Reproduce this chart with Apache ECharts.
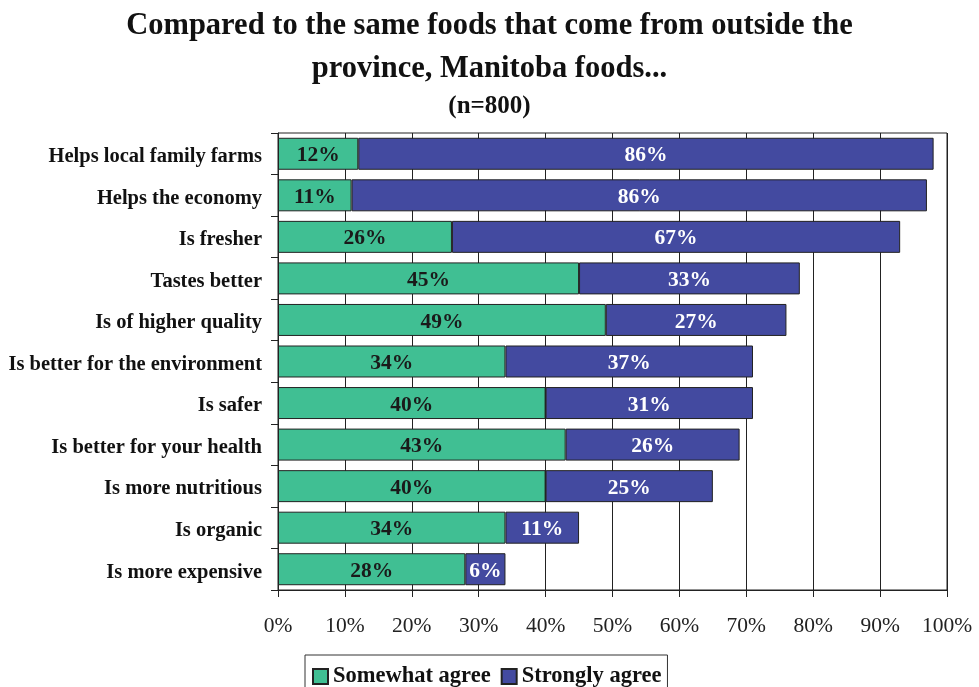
<!DOCTYPE html>
<html>
<head>
<meta charset="utf-8">
<script src="https://cdn.jsdelivr.net/npm/echarts@6/dist/echarts.min.js"></script>
<style>html,body{margin:0;padding:0;background:#fff;}#c{width:979px;height:687px;}</style>
</head>
<body>
<div id="c"></div>
<script>
const categories = ["Helps local family farms","Helps the economy","Is fresher","Tastes better","Is of higher quality","Is better for the environment","Is safer","Is better for your health","Is more nutritious","Is organic","Is more expensive"];
const somewhatAgree = [12,11,26,45,49,34,40,43,40,34,28];
const stronglyAgree = [86,86,67,33,27,37,31,26,25,11,6];
const xTicks = [0,10,20,30,40,50,60,70,80,90,100];

const serif = '"Liberation Serif","Times New Roman",serif';
const chart = echarts.init(document.getElementById('c'));
chart.setOption({
  animation: false,
  backgroundColor: '#fff',
  title: [
    {text: 'Compared to the same foods that come from outside the\nprovince, Manitoba foods...', left: 'center', top: 0,
     textStyle: {fontFamily: serif, fontSize: 30.5, fontWeight: 'bold', color: '#111', lineHeight: 43}},
    {text: '(n=800)', left: 'center', top: 89,
     textStyle: {fontFamily: serif, fontSize: 25, fontWeight: 'bold', color: '#111'}}
  ],
  legend: {
    data: ['Somewhat agree','Strongly agree'],
    left: 305, top: 655, itemWidth: 15, itemHeight: 15, itemGap: 10,
    padding: [10, 6, 14, 7],
    borderColor: '#333', borderWidth: 1,
    textStyle: {fontFamily: serif, fontSize: 22.5, fontWeight: 'bold', color: '#111'},
    icon: 'rect'
  },
  grid: {left: 278, right: 32, top: 133, bottom: 97, show: true, borderColor: '#222', borderWidth: 1},
  xAxis: {
    type: 'value', min: 0, max: 100, interval: 10,
    axisLine: {show: true, lineStyle: {color: '#222'}},
    axisTick: {show: true, length: 7, lineStyle: {color: '#222'}},
    splitLine: {show: true, lineStyle: {color: '#222', width: 1}},
    axisLabel: {formatter: v => xTicks.includes(v) ? v + '%' : '', fontFamily: serif, fontSize: 21.5, color: '#222', margin: 25}
  },
  yAxis: {
    type: 'category', data: categories, inverse: true,
    axisLine: {show: true, lineStyle: {color: '#222'}},
    axisTick: {show: true, length: 7, lineStyle: {color: '#222'}},
    axisLabel: {
      formatter: v => '{a|' + v + '}', margin: 16,
      rich: {a: {fontFamily: serif, fontSize: 20.5, fontWeight: 'bold', color: '#111', padding: [6, 0, 0, 0]}}
    }
  },
  series: [
    {name: 'Somewhat agree', type: 'bar', stack: 'a', data: somewhatAgree, barCategoryGap: '23%',
     itemStyle: {color: '#40BF93', borderColor: '#222', borderWidth: 1},
     label: {show: true, position: 'inside', offset: [0, 2], formatter: '{c}%', fontFamily: serif, fontSize: 21.5, fontWeight: 'bold', color: '#1a1a1a'}},
    {name: 'Strongly agree', type: 'bar', stack: 'a', data: stronglyAgree, barCategoryGap: '23%',
     itemStyle: {color: '#434AA0', borderColor: '#222', borderWidth: 1},
     label: {show: true, position: 'inside', offset: [0, 2], formatter: '{c}%', fontFamily: serif, fontSize: 21.5, fontWeight: 'bold', color: '#fff'}}
  ]
});
</script>
</body>
</html>
